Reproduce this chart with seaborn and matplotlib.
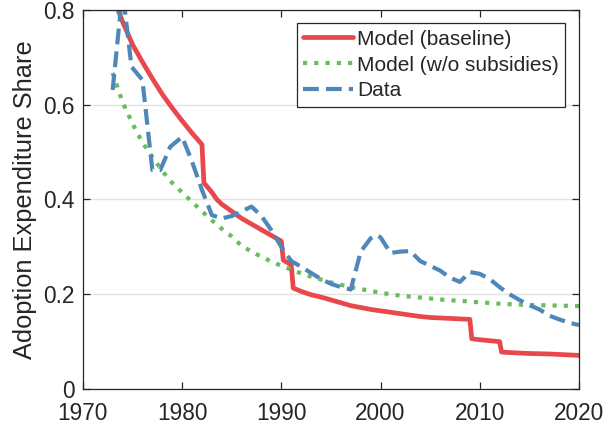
import numpy as np
import pandas as pd
import matplotlib
matplotlib.use("Agg")
import matplotlib.pyplot as plt
import seaborn as sns

# model (baseline)
base_years = [1973, 1974, 1975, 1976, 1977, 1978, 1979, 1980, 1981, 1982,
              1982.2, 1983, 1983.5, 1984, 1985, 1986, 1987, 1988, 1989, 1990,
              1990.2, 1991, 1991.2, 1992, 1993, 1994, 1995, 1996, 1997, 1998,
              1999, 2000, 2001, 2002, 2003, 2004, 2005, 2006, 2007, 2008,
              2009, 2009.2, 2010, 2011, 2012, 2012.2, 2013, 2015, 2017, 2020]
base_vals = [0.83, 0.775, 0.727, 0.69, 0.655, 0.622, 0.593, 0.566, 0.54, 0.516,
             0.435, 0.415, 0.40, 0.39, 0.375, 0.36, 0.348, 0.336, 0.324, 0.312,
             0.272, 0.262, 0.213, 0.206, 0.199, 0.194, 0.188, 0.182, 0.176, 0.172,
             0.168, 0.165, 0.162, 0.159, 0.156, 0.153, 0.151, 0.150, 0.149, 0.148,
             0.147, 0.106, 0.104, 0.102, 0.100, 0.078, 0.077, 0.075, 0.074, 0.071]

# model without subsidies
nosub_years = [1973, 1974, 1975, 1976, 1977, 1978, 1979, 1980, 1981, 1982,
               1983, 1984, 1985, 1986, 1987, 1988, 1989, 1990, 1991, 1992,
               1993, 1994, 1995, 1996, 1997, 1998, 1999, 2000, 2002, 2004,
               2006, 2008, 2010, 2012, 2014, 2016, 2018, 2020]
nosub_vals = [0.667, 0.605, 0.56, 0.52, 0.49, 0.46, 0.435, 0.415, 0.395, 0.375,
              0.356, 0.338, 0.322, 0.302, 0.29, 0.279, 0.269, 0.26, 0.252, 0.244,
              0.237, 0.231, 0.225, 0.22, 0.215, 0.211, 0.207, 0.203, 0.197, 0.193,
              0.189, 0.186, 0.183, 0.18, 0.178, 0.177, 0.176, 0.175]

# data
data_years = [1973, 1974, 1974.9, 1976, 1977, 1977.8, 1978.8, 1980, 1981, 1982,
              1983, 1984, 1985, 1986, 1987, 1988, 1989, 1990, 1991, 1992,
              1993, 1994, 1995, 1996, 1997, 1998, 1999, 1999.6, 2000, 2001,
              2002, 2003, 2004, 2005, 2006, 2007, 2008, 2009, 2010, 2011,
              2012, 2013, 2014, 2015, 2016, 2017, 2018, 2019, 2020]
data_vals = [0.631, 0.84, 0.68, 0.652, 0.462, 0.462, 0.511, 0.532, 0.48, 0.42,
             0.367, 0.36, 0.365, 0.375, 0.385, 0.365, 0.335, 0.30, 0.27, 0.258,
             0.245, 0.232, 0.222, 0.215, 0.21, 0.29, 0.318, 0.325, 0.32, 0.287,
             0.29, 0.291, 0.27, 0.26, 0.25, 0.235, 0.226, 0.247, 0.243, 0.232,
             0.215, 0.2, 0.188, 0.177, 0.168, 0.155, 0.147, 0.14, 0.135]

sns.set_style("ticks")
plt.rcParams["font.family"] = ["Liberation Sans", "DejaVu Sans"]

fig = plt.figure(figsize=(6.05, 4.28), dpi=100)
ax = fig.add_axes([0.137, 0.091, 0.82, 0.886])

df_base = pd.DataFrame({"year": base_years, "share": base_vals})
df_nosub = pd.DataFrame({"year": nosub_years, "share": nosub_vals})
df_data = pd.DataFrame({"year": data_years, "share": data_vals})

sns.lineplot(data=df_base, x="year", y="share", ax=ax, color="#e8474c",
             lw=3.4, label="Model (baseline)", estimator=None)
sns.lineplot(data=df_nosub, x="year", y="share", ax=ax, color="#69bd5c",
             lw=3.0, ls=(0, (1, 1.7)), label="Model (w/o subsidies)", estimator=None)
sns.lineplot(data=df_data, x="year", y="share", ax=ax, color="#4e87b8",
             lw=3.0, ls=(0, (3.8, 1.7)), label="Data", estimator=None)

ax.set_xlim(1970, 2020)
ax.set_ylim(0, 0.8)
ax.set_xticks([1970, 1980, 1990, 2000, 2010, 2020])
ax.set_yticks([0, 0.2, 0.4, 0.6, 0.8])
ax.set_yticklabels(["0", "0.2", "0.4", "0.6", "0.8"])
ax.set_xlabel("")
ax.set_ylabel("Adoption Expenditure Share", fontsize=18.3, color="#262626",
              labelpad=4)
ax.yaxis.grid(True, color="#e3e3e3", lw=1)
ax.set_axisbelow(True)

for s in ax.spines.values():
    s.set_visible(True)
    s.set_color("#262626")
    s.set_linewidth(0.9)
ax.tick_params(direction="in", length=5, width=0.9, top=True, right=True,
               labelsize=16.3, colors="#262626")
ax.tick_params(axis="y", pad=6)
ax.tick_params(axis="x", pad=9)

leg = ax.legend(loc="upper right", fontsize=15, frameon=True, fancybox=False,
                edgecolor="#262626", framealpha=1, handlelength=2.4,
                handletextpad=0.2, borderaxespad=0.65, labelspacing=0.33,
                borderpad=0.3)
leg.get_frame().set_linewidth(0.9)

fig.savefig("out.png", dpi=100)
